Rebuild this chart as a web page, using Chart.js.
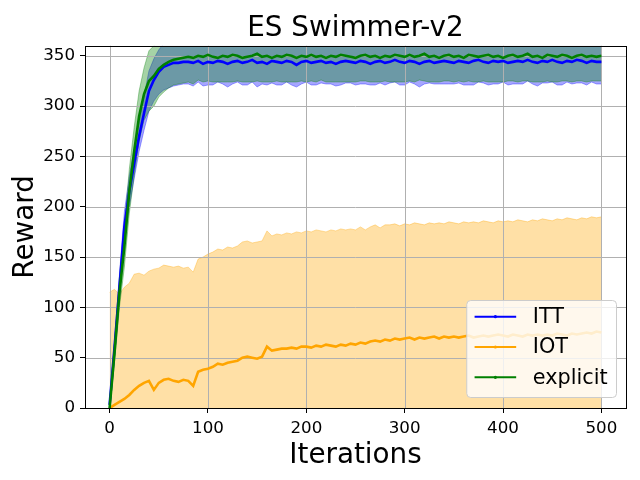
<!DOCTYPE html>
<html>
<head>
<meta charset="utf-8">
<script src="https://cdn.jsdelivr.net/npm/chart.js@4.4.1/dist/chart.umd.min.js"></script>
<style>
  html, body { margin: 0; padding: 0; background: #fff; }
  canvas { display: block; }
</style>
</head>
<body>
<canvas id="chart" width="640" height="480"></canvas>
<script>
const iterations = [
  0, 5, 10, 15, 20, 25, 30, 35, 40, 45,
  50, 55, 60, 65, 70, 75, 80, 85, 90, 95,
  100, 105, 110, 115, 120, 125, 130, 135, 140, 145,
  150, 155, 160, 165, 170, 175, 180, 185, 190, 195,
  200, 205, 210, 215, 220, 225, 230, 235, 240, 245,
  250, 255, 260, 265, 270, 275, 280, 285, 290, 295,
  300, 305, 310, 315, 320, 325, 330, 335, 340, 345,
  350, 355, 360, 365, 370, 375, 380, 385, 390, 395,
  400, 405, 410, 415, 420, 425, 430, 435, 440, 445,
  450, 455, 460, 465, 470, 475, 480, 485, 490, 495,
  500
];

const xTicks = [0, 100, 200, 300, 400, 500];
const yTicks = [0, 50, 100, 150, 200, 250, 300, 350];
const seriesNames = ['ITT', 'IOT', 'explicit'];

const ittMean = [
  3, 60, 120, 180, 215, 243, 270, 293, 315, 326,
  334, 339, 341, 343, 343, 344, 344, 343, 345, 342,
  344, 343, 345, 344, 342, 344, 345, 343, 344, 346,
  343, 344, 342, 345, 344, 343, 345, 344, 341, 344,
  345, 343, 344, 345, 343, 344, 342, 344, 345, 344,
  343, 345, 344, 342, 344, 345, 343, 344, 346, 344,
  343, 345, 344, 342, 344, 345, 343, 344, 345, 344,
  343, 345, 344, 343, 345, 346, 344, 343, 345, 344,
  345, 343, 344, 345, 344, 346, 344, 343, 345, 344,
  346, 344, 343, 345, 344, 346, 345, 343, 345, 344,
  344
];
const ittStd = [
  3, 8, 12, 15, 15, 15, 15, 17, 20, 21,
  22, 23, 23, 23, 22, 22, 22, 23, 21, 22,
  23, 22, 21, 22, 23, 22, 21, 22, 23, 22,
  24, 22, 21, 22, 23, 22, 21, 23, 22, 22,
  21, 22, 23, 22, 21, 22, 22, 23, 22, 21,
  22, 23, 22, 21, 23, 22, 22, 21, 22, 23,
  22, 21, 22, 23, 22, 22, 21, 22, 23, 22,
  21, 22, 23, 22, 24, 22, 21, 22, 23, 22,
  21, 22, 22, 23, 22, 21, 22, 23, 22, 21,
  22, 23, 22, 21, 22, 23, 22, 22, 21, 22,
  22
];

const iotMean = [
  0, 3, 6, 9, 13, 18, 22, 25, 27, 18,
  25, 28, 29, 27, 26, 28, 27, 22, 36, 38,
  39, 41, 44, 43, 45, 46, 47, 50, 51, 50,
  49, 51, 61, 57, 58, 59, 59, 60, 59, 61,
  61, 60, 62, 61, 63, 62, 61, 63, 62, 64,
  63, 65, 64, 66, 67, 66, 68, 67, 69, 68,
  69, 70, 68, 70, 69, 70, 71, 69, 71, 70,
  71, 70, 71, 72, 70, 71, 72, 71, 72, 73,
  72, 71, 73, 72, 71, 73, 72, 73, 72, 73,
  72, 74, 73, 72, 74, 73, 74, 75, 74, 76,
  75
];
const iotStd = [
  115, 115, 107, 111, 111, 115, 112, 107, 109, 120,
  114, 114, 112, 113, 115, 111, 113, 113, 112, 112,
  114, 114, 114, 114, 115, 113, 114, 115, 115, 114,
  116, 115, 115, 114, 115, 113, 115, 113, 116, 113,
  115, 115, 115, 115, 112, 115, 115, 115, 115, 114,
  114, 115, 113, 114, 115, 113, 114, 115, 114, 113,
  114, 112, 116, 113, 113, 114, 112, 115, 112, 115,
  113, 113, 114, 112, 115, 113, 114, 114, 112, 113,
  113, 115, 112, 115, 115, 112, 115, 113, 116, 114,
  114, 114, 114, 117, 114, 114, 115, 113, 116, 113,
  115
];

const explicitMean = [
  0, 55, 115, 160, 215, 255, 290, 312, 325, 330,
  337, 341, 344, 346, 347, 348, 349, 348, 350, 349,
  351, 349, 348, 350, 349, 351, 350, 348, 349, 350,
  352, 349, 350, 348, 350, 349, 351, 350, 348, 350,
  349, 351, 349, 350, 348, 350, 349, 351, 350, 349,
  348, 350, 351, 349, 350, 348, 350, 349, 351, 350,
  349, 351, 349, 350, 352, 349, 350, 348, 350, 351,
  349, 350, 348, 351, 350, 349, 350, 351, 349, 350,
  348, 350, 351, 349, 350, 352, 349, 350, 348, 351,
  350, 349, 351, 350, 348, 350, 351, 349, 350, 349,
  350
];
const explicitStd = [
  2, 10, 15, 20, 22, 24, 25, 26, 30, 30,
  28, 27, 26, 25, 25, 25, 25, 26, 24, 25,
  26, 25, 24, 26, 25, 27, 25, 24, 25, 26,
  27, 25, 26, 24, 25, 25, 27, 26, 24, 25,
  25, 26, 25, 24, 24, 26, 25, 27, 26, 25,
  24, 25, 26, 25, 26, 24, 25, 25, 27, 26,
  25, 26, 25, 24, 27, 25, 26, 24, 25, 26,
  25, 25, 24, 26, 26, 25, 25, 27, 25, 26,
  24, 25, 26, 25, 25, 27, 25, 26, 24, 26,
  26, 25, 26, 25, 24, 25, 26, 25, 25, 24,
  25
];

const FONT = '"DejaVu Sans", sans-serif';
const lineColors = ['#0000ff', '#ffa500', '#008000'];
const bandRgb = ['0,0,255', '255,165,0', '0,128,0'];

const toPoints = (ys) => iterations.map((x, i) => ({ x: x, y: ys[i] }));
const shift = (mean, std, sign) => mean.map((m, i) => m + sign * std[i]);

// lower edge + upper edge filled down to it
function bandSets(mean, std, k, order) {
  const c = 'rgba(' + bandRgb[k] + ',0.35)';
  return [
    { data: toPoints(shift(mean, std, -1)), borderColor: c, borderWidth: 1,
      pointRadius: 0, fill: false, order: order + 1 },
    { data: toPoints(shift(mean, std, 1)), borderColor: c, borderWidth: 1,
      backgroundColor: c, pointRadius: 0, fill: '-1', order: order }
  ];
}

function meanSet(mean, k, order) {
  return { data: toPoints(mean), borderColor: lineColors[k], borderWidth: 2.6,
    pointRadius: 0, fill: false, order: order };
}

const datasets = [].concat(
  bandSets(ittMean, ittStd, 0, 9),
  bandSets(iotMean, iotStd, 1, 7),
  bandSets(explicitMean, explicitStd, 2, 5),
  [meanSet(iotMean, 1, 3), meanSet(ittMean, 0, 2), meanSet(explicitMean, 2, 1)]
);
const LAST_BAND = 5;

// grid sits above the filled bands but under the mean lines
const gridPlugin = {
  id: 'midGrid',
  afterDatasetDraw(chart, args) {
    if (args.index !== LAST_BAND) return;
    const { ctx, chartArea: a, scales } = chart;
    ctx.save();
    ctx.strokeStyle = '#b0b0b0';
    ctx.lineWidth = 1;
    ctx.beginPath();
    xTicks.forEach(v => {
      const px = Math.round(scales.x.getPixelForValue(v)) + 0.5;
      ctx.moveTo(px, a.top); ctx.lineTo(px, a.bottom);
    });
    yTicks.forEach(v => {
      const py = Math.round(scales.y.getPixelForValue(v)) + 0.5;
      ctx.moveTo(a.left, py); ctx.lineTo(a.right, py);
    });
    ctx.stroke();
    ctx.restore();
  }
};

const framePlugin = {
  id: 'frame',
  afterDatasetsDraw(chart) {
    const { ctx, chartArea: a } = chart;
    ctx.save();
    ctx.strokeStyle = '#000';
    ctx.lineWidth = 1;
    ctx.strokeRect(Math.round(a.left) + 0.5, Math.round(a.top) + 0.5,
      Math.round(a.right - a.left), Math.round(a.bottom - a.top));
    ctx.restore();
  }
};

const legendPlugin = {
  id: 'boxLegend',
  afterDraw(chart) {
    const { ctx, chartArea: a } = chart;
    const fs = 20.8;
    const pad = 0.4 * fs, handle = 2 * fs, gap = 0.8 * fs, rowH = 30.3;
    ctx.save();
    ctx.font = fs + 'px ' + FONT;
    const textW = Math.max.apply(null, seriesNames.map(n => ctx.measureText(n).width));
    const w = pad * 2 + handle + gap + textW;
    const h = 97;
    const x = a.right - 10 - w;
    const y = a.bottom - 11 - h;
    ctx.beginPath();
    ctx.roundRect(x + 0.5, y + 0.5, w, h, 4);
    ctx.fillStyle = 'rgba(255,255,255,0.8)';
    ctx.fill();
    ctx.strokeStyle = '#cccccc';
    ctx.lineWidth = 1;
    ctx.stroke();
    seriesNames.forEach((name, i) => {
      const cy = y + 16.7 + i * rowH;
      ctx.strokeStyle = lineColors[i];
      ctx.lineWidth = 2;
      ctx.beginPath();
      ctx.moveTo(x + pad, cy);
      ctx.lineTo(x + pad + handle, cy);
      ctx.stroke();
      ctx.fillStyle = lineColors[i];
      ctx.beginPath();
      ctx.arc(x + pad + handle / 2, cy, 1.6, 0, Math.PI * 2);
      ctx.fill();
      ctx.fillStyle = '#000';
      ctx.textBaseline = 'middle';
      ctx.textAlign = 'left';
      ctx.fillText(name, x + pad + handle + gap, cy + 1);
    });
    ctx.restore();
  }
};

const tickFont = { family: FONT, size: 16.7 };

new Chart(document.getElementById('chart'), {
  type: 'line',
  data: { datasets: datasets },
  plugins: [gridPlugin, framePlugin, legendPlugin],
  options: {
    responsive: false,
    animation: false,
    devicePixelRatio: 1,
    events: [],
    layout: { padding: { left: 0, right: 14, top: 0, bottom: 0 } },
    elements: { line: { tension: 0 } },
    plugins: {
      legend: { display: false },
      tooltip: { enabled: false },
      title: {
        display: true,
        text: 'ES Swimmer-v2',
        fullSize: false,
        color: '#000',
        font: { family: FONT, size: 27.8, weight: 'normal' },
        padding: { top: 12, bottom: 0.4 }
      }
    },
    scales: {
      x: {
        type: 'linear',
        min: -25,
        max: 525,
        afterBuildTicks: (s) => { s.ticks = xTicks.map(v => ({ value: v })); },
        afterFit: (s) => { s.height = 72; },
        grid: { drawOnChartArea: false, drawTicks: true, tickLength: 5, tickColor: '#000' },
        border: { display: false },
        ticks: { color: '#000', font: tickFont, padding: 6, maxRotation: 0 },
        title: {
          display: true, text: 'Iterations', color: '#000',
          font: { family: FONT, size: 27.8 }, padding: { top: 0, bottom: 8 }
        }
      },
      y: {
        type: 'linear',
        min: 0,
        max: 360,
        afterBuildTicks: (s) => { s.ticks = yTicks.map(v => ({ value: v })); },
        afterFit: (s) => { s.width = 85; },
        grid: { drawOnChartArea: false, drawTicks: true, tickLength: 5, tickColor: '#000' },
        border: { display: false },
        ticks: { color: '#000', font: tickFont, padding: 5 },
        title: {
          display: true, text: 'Reward', color: '#000',
          font: { family: FONT, size: 27.8 }, padding: { top: 9, bottom: 0 }
        }
      }
    }
  }
});
</script>
</body>
</html>
